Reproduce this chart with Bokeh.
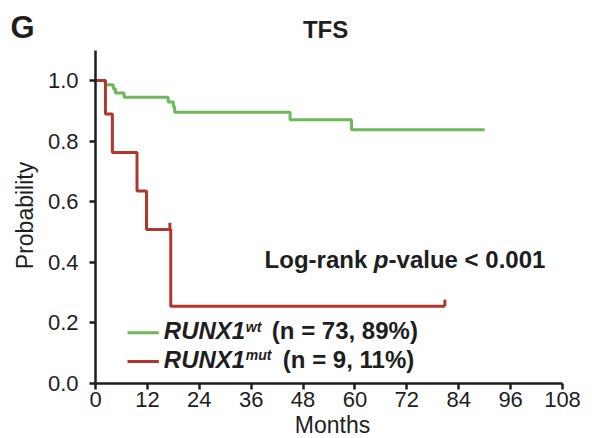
from bokeh.plotting import figure
from bokeh.models import Range1d, Label, FixedTicker
from bokeh.embed import file_html
from bokeh.resources import INLINE
import math

# ---- data ----
x_ticks = [0, 12, 24, 36, 48, 60, 72, 84, 96, 108]
y_ticks = [0.0, 0.2, 0.4, 0.6, 0.8, 1.0]
y_tick_labels = ["0.0", "0.2", "0.4", "0.6", "0.8", "1.0"]

wt_times = [2.3, 4.1, 4.6, 6.6, 16.8, 18.0, 18.3, 45.0, 59.2]
wt_surv = [0.986, 0.973, 0.959, 0.945, 0.929, 0.913, 0.895, 0.870, 0.837]
wt_end = 90.0

mut_times = [2.3, 3.9, 9.6, 11.8, 17.4]
mut_surv = [0.889, 0.762, 0.635, 0.508, 0.254]
mut_end = 80.8
mut_cens_times = [17.2, 80.8]
mut_cens_surv = [0.508, 0.254]

GREEN = "#6cb85a"
RED = "#b1372e"
INK = "#1e1e1e"
FONT = "Liberation Sans"

W, H = 592, 438
# axis box: months 0..108 and probability 0..1.1, placed inside a full-canvas frame
X0_PX, PX_PER_MONTH = 95.0, 4.3241
Y0_PX, PX_PER_UNIT = 382.7, 302.7
x_range = Range1d(-X0_PX / PX_PER_MONTH, (W - X0_PX) / PX_PER_MONTH)
y_range = Range1d(-(H - Y0_PX) / PX_PER_UNIT, Y0_PX / PX_PER_UNIT)

p = figure(width=W, height=H, x_range=x_range, y_range=y_range,
           output_backend="svg", toolbar_location=None,
           min_border=0, min_border_left=0, min_border_right=0,
           min_border_top=0, min_border_bottom=0)
p.title.text = ""
p.xgrid.visible = False
p.ygrid.visible = False
p.outline_line_color = None

p.xaxis.ticker = FixedTicker(ticks=x_ticks)
p.yaxis.ticker = FixedTicker(ticks=y_ticks)
p.yaxis.major_label_overrides = {t: s for t, s in zip(y_ticks, y_tick_labels)}
p.xaxis.fixed_location = 0
p.yaxis.fixed_location = 0
p.xaxis.bounds = (0, 108)
p.yaxis.bounds = (0, 1.1)

for ax in (p.xaxis[0], p.yaxis[0]):
    ax.axis_line_width = 2.5
    ax.axis_line_color = INK
    ax.major_tick_line_width = 2.5
    ax.major_tick_line_color = INK
    ax.major_tick_out = 6
    ax.major_tick_in = 0
    ax.minor_tick_line_color = None
    ax.major_label_text_font = FONT
    ax.major_label_text_font_size = "22px"
    ax.major_label_text_color = INK
p.yaxis.major_label_standoff = 11
p.xaxis.major_label_standoff = 3

# Kaplan-Meier steps
wt_x = [0.0] + wt_times + [wt_end]
wt_y = [1.0] + wt_surv + [wt_surv[-1]]
mut_x = [0.0] + mut_times + [mut_end]
mut_y = [1.0] + mut_surv + [mut_surv[-1]]

p.step(x=wt_x, y=wt_y, mode="after", line_color=GREEN, line_width=3)
p.step(x=mut_x, y=mut_y, mode="after", line_color=RED, line_width=3)
p.segment(x0=mut_cens_times, y0=mut_cens_surv, x1=mut_cens_times,
          y1=[s + 0.022 for s in mut_cens_surv], line_color=RED, line_width=3)

# legend keys
p.segment(x0=[7.4], y0=[0.1665], x1=[14.65], y1=[0.1665], line_color=GREEN, line_width=3)
p.segment(x0=[7.4], y0=[0.0717], x1=[14.65], y1=[0.0717], line_color=RED, line_width=3)

def lab(x, y, text, size, style, xoff=0, align="left", baseline="alphabetic", angle=0):
    p.add_layout(Label(x=x, y=y, x_offset=xoff, text=text, text_font=FONT,
                       text_font_size=size, text_font_style=style, text_color=INK,
                       text_baseline=baseline, text_align=align, angle=angle))

# panel letter and title
lab(-19.66, 1.1767, "G", "31px", "bold")
lab(53.2, 1.169, "TFS", "24px", "bold", align="center")

# axis titles
lab(54.8, -0.137, "Months", "23px", "normal", align="center")
lab(-16.2, 0.554, "Probability", "23px", "normal", align="center",
    baseline="middle", angle=math.pi / 2)

# legend texts
lab(15.8, 0.1737, "RUNX1", "24px", "bold italic")
lab(15.8, 0.1866, "wt", "14px", "bold italic", xoff=82)
lab(15.8, 0.1737, "(n = 73, 89%)", "24px", "bold", xoff=108)
lab(15.8, 0.0799, "RUNX1", "24px", "bold italic")
lab(15.8, 0.0925, "mut", "14px", "bold italic", xoff=82)
lab(15.8, 0.0799, "(n = 9, 11%)", "24px", "bold", xoff=119)

# log-rank annotation
lab(39.1, 0.4103, "Log-rank ", "24px", "bold")
lab(39.1, 0.4103, "p", "24px", "bold italic", xoff=109.3)
lab(39.1, 0.4103, "-value < 0.001", "24px", "bold", xoff=124.0)

open("out.html", "w").write(file_html(p, INLINE))
